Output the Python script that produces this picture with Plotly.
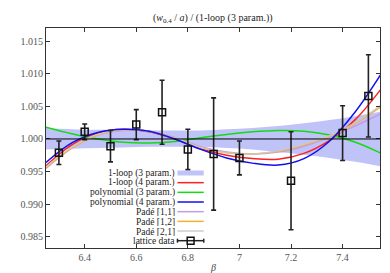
import plotly.graph_objects as go

# ---------------- data ----------------
beta_grid = [6.25, 6.35, 6.45, 6.55, 6.65, 6.75, 6.85, 6.95, 7.05, 7.15, 7.25, 7.35, 7.45, 7.55]

band_upper = [1.0017, 1.0015, 1.0014, 1.0014, 1.0013, 1.0013, 1.0013, 1.0015, 1.0017, 1.0020,
              1.0024, 1.0029, 1.0035, 1.0042]
band_lower = [0.9984, 0.9985, 0.9986, 0.9987, 0.9988, 0.9988, 0.9988, 0.9986, 0.9984, 0.9980,
              0.9976, 0.9971, 0.9965, 0.9958]

oneloop4 = [0.9959, 0.9991, 1.0009, 1.0015, 1.0011, 1.0000, 0.9985, 0.9975, 0.9970, 0.9969,
            0.9978, 0.9998, 1.0030, 1.0077]
poly3 = [1.0018, 1.0008, 1.0000, 0.9995, 0.9994, 0.9996, 1.0002, 1.0007, 1.0011, 1.0013,
         1.0012, 1.0006, 0.9995, 0.9978]
poly4 = [0.9964, 0.9994, 1.0010, 1.0015, 1.0012, 1.0000, 0.9984, 0.9971, 0.9963, 0.9960,
         0.9970, 0.9997, 1.0042, 1.0100]
pade11 = [0.9955, 0.9986, 1.0006, 1.0013, 1.0012, 1.0002, 0.9988, 0.9980, 0.9977, 0.9980,
          0.9989, 1.0003, 1.0020, 1.0039]
pade12 = [0.9956, 0.9986, 1.0006, 1.0014, 1.0012, 1.0001, 0.9987, 0.9979, 0.9977, 0.9981,
          0.9991, 1.0004, 1.0024, 1.0050]
pade21 = [0.9957, 0.9987, 1.0007, 1.0014, 1.0012, 1.0001, 0.9987, 0.9979, 0.9977, 0.9982,
          0.9992, 1.0005, 1.0025, 1.0052]

lat_beta = [6.3, 6.4, 6.5, 6.6, 6.7, 6.8, 6.9, 7.0, 7.2, 7.4, 7.5]
lat_val = [0.9979, 1.0011, 0.9989, 1.0022, 1.0041, 0.9984, 0.9977, 0.9971, 0.9936, 1.0009, 1.0066]
lat_err = [0.0018, 0.0012, 0.0024, 0.0023, 0.0049, 0.0031, 0.0086, 0.0026, 0.0075, 0.0042, 0.0063]

x_tickvals = [6.4, 6.6, 6.8, 7.0, 7.2, 7.4]
x_ticktext = ["6.4", "6.6", "6.8", "7", "7.2", "7.4"]
y_tickvals = [0.985, 0.990, 0.995, 1.000, 1.005, 1.010, 1.015]
y_ticktext = ["0.985", "0.990", "0.995", "1.000", "1.005", "1.010", "1.015"]

legend_labels = ["1-loop (3 param.)", "1-loop (4 param.)", "polynomial (3 param.)",
                 "polynomial (4 param.)", "Padé [1,1]", "Padé [1,2]", "Padé [2,1]", "lattice data"]

# ---------------- styles ----------------
BAND = "rgba(165,170,245,0.7)"
RED = "#ff2020"
GREEN = "#10dd10"
BLUE = "#1010ee"
PURPLE = "#c09cf0"
ORANGE = "#f5b030"
GRAY = "rgba(205,200,195,0.9)"
FONT = "Liberation Serif"
SMOOTH = 1.0

fig = go.Figure()

fig.add_trace(go.Scatter(x=beta_grid, y=band_lower, mode="lines", line=dict(width=0, smoothing=SMOOTH),
                         line_shape="spline", showlegend=False, hoverinfo="skip"))
fig.add_trace(go.Scatter(x=beta_grid, y=band_upper, mode="lines", line=dict(width=0, smoothing=SMOOTH),
                         line_shape="spline", fill="tonexty", fillcolor=BAND,
                         name=legend_labels[0], showlegend=False))

curves = [(oneloop4, RED, legend_labels[1]), (poly3, GREEN, legend_labels[2]),
          (pade11, PURPLE, legend_labels[4]), (pade12, ORANGE, legend_labels[5]),
          (pade21, GRAY, legend_labels[6]), (poly4, BLUE, legend_labels[3])]
for ys, col, nm in curves:
    fig.add_trace(go.Scatter(x=beta_grid, y=ys, mode="lines",
                             line=dict(color=col, width=1.5, smoothing=SMOOTH),
                             line_shape="spline", name=nm, showlegend=False))

fig.add_trace(go.Scatter(
    x=lat_beta, y=lat_val, mode="markers", name=legend_labels[7], showlegend=False,
    marker=dict(symbol="square-open", size=7, color="#111", line=dict(width=1.5, color="#111")),
    error_y=dict(type="data", array=lat_err, visible=True, color="#222", thickness=1.6, width=2.5)))

shapes = [dict(type="line", xref="paper", x0=0, x1=1, yref="y", y0=1.0, y1=1.0,
               line=dict(color="black", width=1), layer="above")]

# custom gnuplot-style legend (text right, sample after it)
L, R, T, B = 29, 372, 20, 240
def px(x):
    return (x - L) / (R - L)
def py(y):
    return (B - y) / (B - T)

annotations = []
row0, dy = 165.0, 9.67
sx0, sx1 = 164, 191
leg_colors = [None, RED, GREEN, BLUE, PURPLE, ORANGE, "rgb(205,205,205)", None]
for i, lab in enumerate(legend_labels):
    yy = row0 + i * dy
    annotations.append(dict(x=px(162), y=py(yy), xref="paper", yref="paper", text=lab,
                            showarrow=False, xanchor="right", yanchor="middle",
                            height=9, valign="middle", borderpad=0,
                            font=dict(family=FONT, size=9.5, color="#222")))
    if i == 0:
        shapes.append(dict(type="rect", xref="paper", yref="paper", x0=px(sx0), x1=px(sx1),
                           y0=py(yy + 2.5), y1=py(yy - 2.5), fillcolor=BAND, line=dict(width=0)))
    elif i < 7:
        shapes.append(dict(type="line", xref="paper", yref="paper", x0=px(sx0), x1=px(sx1),
                           y0=py(yy), y1=py(yy), line=dict(color=leg_colors[i], width=1.5)))
    else:
        shapes.append(dict(type="line", xref="paper", yref="paper", x0=px(sx0), x1=px(sx1),
                           y0=py(yy), y1=py(yy), line=dict(color="#222", width=1.5)))
        for xc in (sx0, sx1):
            shapes.append(dict(type="line", xref="paper", yref="paper", x0=px(xc), x1=px(xc),
                               y0=py(yy - 2), y1=py(yy + 2), line=dict(color="#222", width=1.5)))
        shapes.append(dict(type="rect", xref="paper", yref="paper", x0=px(174), x1=px(181),
                           y0=py(yy + 3.5), y1=py(yy - 3.5), fillcolor="rgba(0,0,0,0)",
                           line=dict(color="#111", width=1.5)))

annotations.append(dict(x=0.5, y=py(10), xref="paper", yref="paper",
                        text="(<i>w</i><sub>0.4</sub> / <i>a</i>) / (1-loop (3 param.))",
                        showarrow=False, xanchor="center", yanchor="middle",
                        font=dict(family=FONT, size=10, color="#222")))
annotations.append(dict(x=0.5, y=py(259), xref="paper", yref="paper", text="<i>β</i>",
                        showarrow=False, xanchor="center", yanchor="middle",
                        font=dict(family=FONT, size=10, color="#444")))

axis_common = dict(showgrid=False, zeroline=False, showline=True, linecolor="#333",
                   linewidth=1, mirror="allticks", ticks="inside", ticklen=4,
                   tickcolor="#333", tickfont=dict(family=FONT, size=10, color="#555"))

fig.update_layout(
    width=390, height=273,
    margin=dict(l=L, r=390 - R, t=T, b=273 - B),
    paper_bgcolor="white", plot_bgcolor="white",
    xaxis=dict(range=[6.25, 7.545], tickvals=x_tickvals, ticktext=x_ticktext, **axis_common),
    yaxis=dict(range=[0.9833, 1.0170], tickvals=y_tickvals, ticktext=y_ticktext, **axis_common),
    shapes=shapes, annotations=annotations, showlegend=False,
)

fig.write_html("out.html")
